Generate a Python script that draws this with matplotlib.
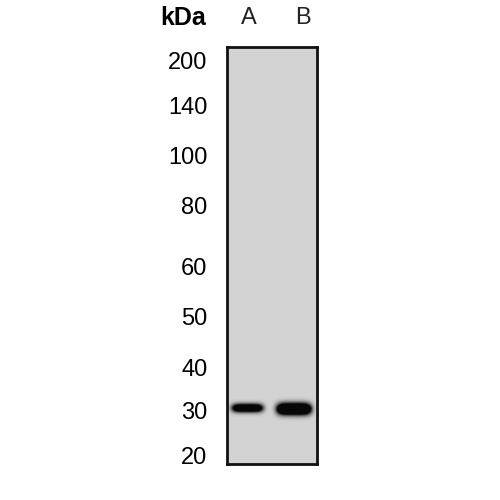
import numpy as np
import matplotlib
matplotlib.use('Agg')
import matplotlib.pyplot as plt

plt.rcParams['font.family'] = ['Liberation Sans', 'DejaVu Sans']

# marker ladder (kDa) and the row (px from gel top) where each one sits
marker_kda = [200, 140, 100, 80, 60, 50, 40, 30, 20]
marker_row = [13, 58, 108, 158, 219, 269, 320, 363, 408]

# lanes
lanes = ['A', 'B']
lane_center = [20.5, 67]      # column within gel
lane_halfwidth = [15.5, 17]
band_row = [361, 362]         # band just above 30 kDa
band_thick = [4.2, 5.6]
band_strength = [1.8, 2.4]

gel_w, gel_h = 90, 417
bg = 0.83

# build the gel picture
xx = np.arange(gel_w) + 0.5
yy = np.arange(gel_h) + 0.5
X, Y = np.meshgrid(xx, yy)
dark = np.zeros_like(X)
for c, hw, r, t, s in zip(lane_center, lane_halfwidth, band_row, band_thick, band_strength):
    px = np.exp(-np.abs((X - c) / hw) ** 5)
    py = np.exp(-((Y - r) / t) ** 2)
    dark += s * px * py
d = np.clip(dark, 0, 1)
img = bg * (1 - d) + 0.03 * d

fig = plt.figure(figsize=(5, 5), dpi=100)
ax = fig.add_axes([227 / 500, 1 - 464 / 500, 90 / 500, 417 / 500])
ax.imshow(img, cmap='gray', vmin=0, vmax=1, extent=(0, gel_w, gel_h, 0),
          aspect='auto', interpolation='bilinear')
ax.set_xlim(0, gel_w)
ax.set_ylim(gel_h, 0)
for sp in ax.spines.values():
    sp.set_linewidth(2)
    sp.set_color('#111111')

ax.set_yticks(marker_row)
ax.set_yticklabels([str(k) for k in marker_kda], fontsize=17)
ax.tick_params(axis='y', length=0, pad=14)
ax.set_xticks([])

# lane labels and unit header
lane_label_x = [22, 76]
for lab, x in zip(lanes, lane_label_x):
    ax.text(x, -29, lab, ha='center', va='center', fontsize=17, color='#222222')
fig.text(183 / 500, 1 - 18 / 500, 'kDa', ha='center', va='center',
         fontsize=18, fontweight='bold')

fig.savefig('out.png', dpi=100)
